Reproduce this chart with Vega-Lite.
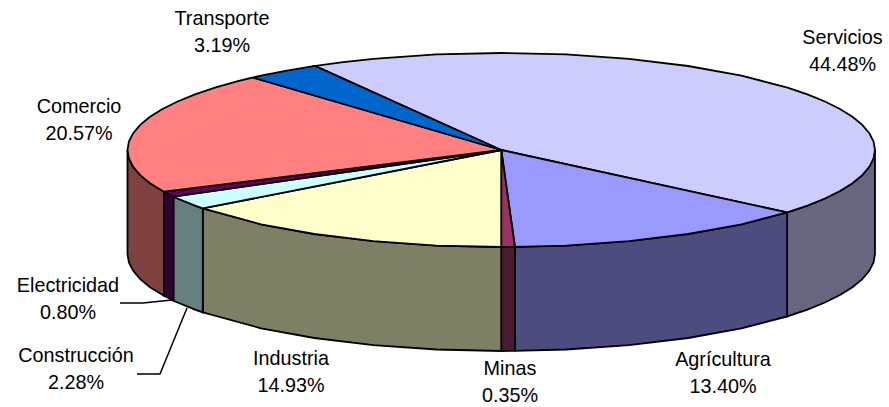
{"$schema":"https://vega.github.io/schema/vega-lite/v6.json","width":889,"height":407,"padding":0,"autosize":{"type":"none"},"background":"white","config":{"view":{"stroke":null}},
"datasets":{
"faces":[
{"part":"Servicios side","i":0,"x":1,"y":0},{"part":"Servicios side","i":1,"x":0.9962,"y":-0.0872},{"part":"Servicios side","i":2,"x":0.9848,"y":-0.1736},{"part":"Servicios side","i":3,"x":0.9659,"y":-0.2588},{"part":"Servicios side","i":4,"x":0.9397,"y":-0.342},{"part":"Servicios side","i":5,"x":0.9063,"y":-0.4226},{"part":"Servicios side","i":6,"x":0.866,"y":-0.5},{"part":"Servicios side","i":7,"x":0.8192,"y":-0.5736},{"part":"Servicios side","i":8,"x":0.7649,"y":-0.6441},{"part":"Servicios side","i":9,"x":0.7649,"y":-1.7161},{"part":"Servicios side","i":10,"x":0.8192,"y":-1.6456},{"part":"Servicios side","i":11,"x":0.866,"y":-1.572},{"part":"Servicios side","i":12,"x":0.9063,"y":-1.4946},{"part":"Servicios side","i":13,"x":0.9397,"y":-1.414},{"part":"Servicios side","i":14,"x":0.9659,"y":-1.3308},{"part":"Servicios side","i":15,"x":0.9848,"y":-1.2456},{"part":"Servicios side","i":16,"x":0.9962,"y":-1.1592},{"part":"Servicios side","i":17,"x":1,"y":-1.072},{"part":"Servicios side","i":18,"x":1,"y":0},
{"part":"Agricultura side","i":0,"x":0.7649,"y":-0.6441},{"part":"Agricultura side","i":1,"x":0.6428,"y":-0.766},{"part":"Agricultura side","i":2,"x":0.5,"y":-0.866},{"part":"Agricultura side","i":3,"x":0.342,"y":-0.9397},{"part":"Agricultura side","i":4,"x":0.1736,"y":-0.9848},{"part":"Agricultura side","i":5,"x":0.0366,"y":-0.9993},{"part":"Agricultura side","i":6,"x":0.0366,"y":-2.0713},{"part":"Agricultura side","i":7,"x":0.1736,"y":-2.0568},{"part":"Agricultura side","i":8,"x":0.342,"y":-2.0117},{"part":"Agricultura side","i":9,"x":0.5,"y":-1.938},{"part":"Agricultura side","i":10,"x":0.6428,"y":-1.838},{"part":"Agricultura side","i":11,"x":0.7649,"y":-1.7161},{"part":"Agricultura side","i":12,"x":0.7649,"y":-0.6441},
{"part":"Minas side","i":0,"x":0.0366,"y":-0.9993},{"part":"Minas side","i":1,"x":0,"y":-1},{"part":"Minas side","i":2,"x":0,"y":-2.072},{"part":"Minas side","i":3,"x":0.0366,"y":-2.0713},{"part":"Minas side","i":4,"x":0.0366,"y":-0.9993},
{"part":"Industria side","i":0,"x":0,"y":-1},{"part":"Industria side","i":1,"x":-0.1736,"y":-0.9848},{"part":"Industria side","i":2,"x":-0.342,"y":-0.9397},{"part":"Industria side","i":3,"x":-0.5,"y":-0.866},{"part":"Industria side","i":4,"x":-0.6428,"y":-0.766},{"part":"Industria side","i":5,"x":-0.7986,"y":-0.6018},{"part":"Industria side","i":6,"x":-0.7986,"y":-1.6738},{"part":"Industria side","i":7,"x":-0.6428,"y":-1.838},{"part":"Industria side","i":8,"x":-0.5,"y":-1.938},{"part":"Industria side","i":9,"x":-0.342,"y":-2.0117},{"part":"Industria side","i":10,"x":-0.1736,"y":-2.0568},{"part":"Industria side","i":11,"x":0,"y":-2.072},{"part":"Industria side","i":12,"x":0,"y":-1},
{"part":"Construccion side","i":0,"x":-0.7986,"y":-0.6018},{"part":"Construccion side","i":1,"x":-0.8192,"y":-0.5736},{"part":"Construccion side","i":2,"x":-0.866,"y":-0.5},{"part":"Construccion side","i":3,"x":-0.8771,"y":-0.4802},{"part":"Construccion side","i":4,"x":-0.8771,"y":-1.5522},{"part":"Construccion side","i":5,"x":-0.866,"y":-1.572},{"part":"Construccion side","i":6,"x":-0.8192,"y":-1.6456},{"part":"Construccion side","i":7,"x":-0.7986,"y":-1.6738},{"part":"Construccion side","i":8,"x":-0.7986,"y":-0.6018},
{"part":"Electricidad side","i":0,"x":-0.8771,"y":-0.4802},{"part":"Electricidad side","i":1,"x":-0.9026,"y":-0.4305},{"part":"Electricidad side","i":2,"x":-0.9026,"y":-1.5025},{"part":"Electricidad side","i":3,"x":-0.8771,"y":-1.5522},{"part":"Electricidad side","i":4,"x":-0.8771,"y":-0.4802},
{"part":"Comercio side","i":0,"x":-0.9026,"y":-0.4305},{"part":"Comercio side","i":1,"x":-0.9397,"y":-0.342},{"part":"Comercio side","i":2,"x":-0.9659,"y":-0.2588},{"part":"Comercio side","i":3,"x":-0.9848,"y":-0.1736},{"part":"Comercio side","i":4,"x":-0.9962,"y":-0.0872},{"part":"Comercio side","i":5,"x":-1,"y":0},{"part":"Comercio side","i":6,"x":-1,"y":-1.072},{"part":"Comercio side","i":7,"x":-0.9962,"y":-1.1592},{"part":"Comercio side","i":8,"x":-0.9848,"y":-1.2456},{"part":"Comercio side","i":9,"x":-0.9659,"y":-1.3308},{"part":"Comercio side","i":10,"x":-0.9397,"y":-1.414},{"part":"Comercio side","i":11,"x":-0.9026,"y":-1.5025},{"part":"Comercio side","i":12,"x":-0.9026,"y":-0.4305},
{"part":"Servicios top","i":0,"x":0,"y":0},{"part":"Servicios top","i":1,"x":-0.4985,"y":0.8669},{"part":"Servicios top","i":2,"x":-0.4226,"y":0.9063},{"part":"Servicios top","i":3,"x":-0.342,"y":0.9397},{"part":"Servicios top","i":4,"x":-0.1736,"y":0.9848},{"part":"Servicios top","i":5,"x":0,"y":1},{"part":"Servicios top","i":6,"x":0.1736,"y":0.9848},{"part":"Servicios top","i":7,"x":0.342,"y":0.9397},{"part":"Servicios top","i":8,"x":0.5,"y":0.866},{"part":"Servicios top","i":9,"x":0.6428,"y":0.766},{"part":"Servicios top","i":10,"x":0.766,"y":0.6428},{"part":"Servicios top","i":11,"x":0.8192,"y":0.5736},{"part":"Servicios top","i":12,"x":0.866,"y":0.5},{"part":"Servicios top","i":13,"x":0.9063,"y":0.4226},{"part":"Servicios top","i":14,"x":0.9397,"y":0.342},{"part":"Servicios top","i":15,"x":0.9659,"y":0.2588},{"part":"Servicios top","i":16,"x":0.9848,"y":0.1736},{"part":"Servicios top","i":17,"x":0.9962,"y":0.0872},{"part":"Servicios top","i":18,"x":1,"y":0},{"part":"Servicios top","i":19,"x":0.9962,"y":-0.0872},{"part":"Servicios top","i":20,"x":0.9848,"y":-0.1736},{"part":"Servicios top","i":21,"x":0.9659,"y":-0.2588},{"part":"Servicios top","i":22,"x":0.9397,"y":-0.342},{"part":"Servicios top","i":23,"x":0.9063,"y":-0.4226},{"part":"Servicios top","i":24,"x":0.866,"y":-0.5},{"part":"Servicios top","i":25,"x":0.8192,"y":-0.5736},{"part":"Servicios top","i":26,"x":0.7649,"y":-0.6441},{"part":"Servicios top","i":27,"x":0,"y":0},
{"part":"Agricultura top","i":0,"x":0,"y":0},{"part":"Agricultura top","i":1,"x":0.7649,"y":-0.6441},{"part":"Agricultura top","i":2,"x":0.6428,"y":-0.766},{"part":"Agricultura top","i":3,"x":0.5,"y":-0.866},{"part":"Agricultura top","i":4,"x":0.342,"y":-0.9397},{"part":"Agricultura top","i":5,"x":0.1736,"y":-0.9848},{"part":"Agricultura top","i":6,"x":0.0366,"y":-0.9993},{"part":"Agricultura top","i":7,"x":0,"y":0},
{"part":"Minas top","i":0,"x":0,"y":0},{"part":"Minas top","i":1,"x":0.0366,"y":-0.9993},{"part":"Minas top","i":2,"x":0,"y":-1},{"part":"Minas top","i":3,"x":0,"y":0},
{"part":"Industria top","i":0,"x":0,"y":0},{"part":"Industria top","i":1,"x":0,"y":-1},{"part":"Industria top","i":2,"x":-0.1736,"y":-0.9848},{"part":"Industria top","i":3,"x":-0.342,"y":-0.9397},{"part":"Industria top","i":4,"x":-0.5,"y":-0.866},{"part":"Industria top","i":5,"x":-0.6428,"y":-0.766},{"part":"Industria top","i":6,"x":-0.7986,"y":-0.6018},{"part":"Industria top","i":7,"x":0,"y":0},
{"part":"Construccion top","i":0,"x":0,"y":0},{"part":"Construccion top","i":1,"x":-0.7986,"y":-0.6018},{"part":"Construccion top","i":2,"x":-0.8192,"y":-0.5736},{"part":"Construccion top","i":3,"x":-0.866,"y":-0.5},{"part":"Construccion top","i":4,"x":-0.8771,"y":-0.4802},{"part":"Construccion top","i":5,"x":0,"y":0},
{"part":"Electricidad top","i":0,"x":0,"y":0},{"part":"Electricidad top","i":1,"x":-0.8771,"y":-0.4802},{"part":"Electricidad top","i":2,"x":-0.9026,"y":-0.4305},{"part":"Electricidad top","i":3,"x":0,"y":0},
{"part":"Comercio top","i":0,"x":0,"y":0},{"part":"Comercio top","i":1,"x":-0.9026,"y":-0.4305},{"part":"Comercio top","i":2,"x":-0.9397,"y":-0.342},{"part":"Comercio top","i":3,"x":-0.9659,"y":-0.2588},{"part":"Comercio top","i":4,"x":-0.9848,"y":-0.1736},{"part":"Comercio top","i":5,"x":-0.9962,"y":-0.0872},{"part":"Comercio top","i":6,"x":-1,"y":0},{"part":"Comercio top","i":7,"x":-0.9962,"y":0.0872},{"part":"Comercio top","i":8,"x":-0.9848,"y":0.1736},{"part":"Comercio top","i":9,"x":-0.9659,"y":0.2588},{"part":"Comercio top","i":10,"x":-0.9397,"y":0.342},{"part":"Comercio top","i":11,"x":-0.9063,"y":0.4226},{"part":"Comercio top","i":12,"x":-0.866,"y":0.5},{"part":"Comercio top","i":13,"x":-0.8192,"y":0.5736},{"part":"Comercio top","i":14,"x":-0.766,"y":0.6428},{"part":"Comercio top","i":15,"x":-0.7071,"y":0.7071},{"part":"Comercio top","i":16,"x":-0.6648,"y":0.747},{"part":"Comercio top","i":17,"x":0,"y":0},
{"part":"Transporte top","i":0,"x":0,"y":0},{"part":"Transporte top","i":1,"x":-0.6648,"y":0.747},{"part":"Transporte top","i":2,"x":-0.6428,"y":0.766},{"part":"Transporte top","i":3,"x":-0.5736,"y":0.8192},{"part":"Transporte top","i":4,"x":-0.4985,"y":0.8669},{"part":"Transporte top","i":5,"x":0,"y":0}
],
"leaders":[
{"slice":"Electricidad","i":0,"x":-1.0201,"y":-1.5773},{"slice":"Electricidad","i":1,"x":-0.9586,"y":-1.5773},{"slice":"Electricidad","i":2,"x":-0.8809,"y":-1.5464},
{"slice":"Construccion","i":0,"x":-0.9746,"y":-2.3093},{"slice":"Construccion","i":1,"x":-0.913,"y":-2.3093},{"slice":"Construccion","i":2,"x":-0.8408,"y":-1.6289}
],
"labels":[
{"label":"Servicios\n44.48%","share":44.48,"x":0.913,"y":1.0206},
{"label":"Agrícultura\n13.40%","share":13.4,"x":0.5933,"y":-2.3041},
{"label":"Minas\n0.35%","share":0.35,"x":0.0234,"y":-2.3918},
{"label":"Industria\n14.93%","share":14.93,"x":-0.5625,"y":-2.2938},
{"label":"Construcción\n2.28%","share":2.28,"x":-1.1378,"y":-2.2577},
{"label":"Electricidad\n0.80%","share":0.8,"x":-1.1592,"y":-1.5361},
{"label":"Comercio\n20.57%","share":20.57,"x":-1.1298,"y":0.3144},
{"label":"Transporte\n3.19%","share":3.19,"x":-0.7472,"y":1.2165}
]},
"layer":[
{"data":{"name":"faces"},"mark":{"type":"line","filled":true,"stroke":"black","strokeWidth":1.8,"clip":false},
"encoding":{"x":{"field":"x","type":"quantitative","scale":{"domain":[-1.3411,1.0375],"nice":false,"zero":false},"axis":null},"y":{"field":"y","type":"quantitative","scale":{"domain":[-2.6495,1.5464],"nice":false,"zero":false},"axis":null},"order":{"field":"i","type":"quantitative"},
"color":{"field":"part","type":"nominal","legend":null,"scale":{"domain":["Servicios top","Agricultura top","Minas top","Industria top","Construccion top","Electricidad top","Comercio top","Transporte top","Servicios side","Agricultura side","Minas side","Industria side","Construccion side","Electricidad side","Comercio side"],"range":["#CCCCFF","#9999FF","#993366","#FFFFCC","#CCFFFF","#660066","#FF8080","#0066CC","#66667F","#4C4C7F","#4C1933","#7F7F66","#667F7F","#330033","#7F4040"]}}}},
{"data":{"name":"leaders"},"mark":{"type":"line","color":"black","strokeWidth":1.5},
"encoding":{"x":{"field":"x","type":"quantitative"},"y":{"field":"y","type":"quantitative"},"order":{"field":"i","type":"quantitative"},"detail":{"field":"slice"}}},
{"data":{"name":"labels"},"mark":{"type":"text","font":"Liberation Sans","fontSize":19.8,"lineBreak":"\n","lineHeight":27,"align":"center","baseline":"middle","dy":-13,"color":"black"},
"encoding":{"x":{"field":"x","type":"quantitative"},"y":{"field":"y","type":"quantitative"},"text":{"field":"label"}}}
]}
